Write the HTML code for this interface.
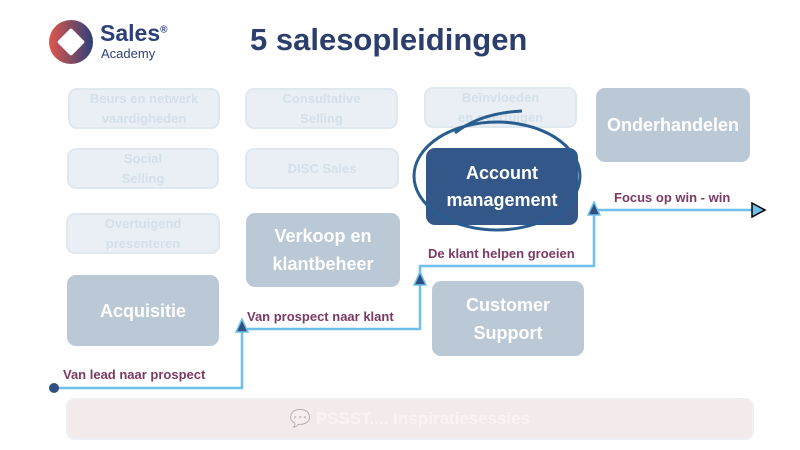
<!DOCTYPE html>
<html><head><meta charset="utf-8"><style>
body{margin:0;width:800px;height:450px;background:#fff;position:relative;overflow:hidden;font-family:"Liberation Sans","DejaVu Sans",sans-serif}
.b{position:absolute;border-radius:9px;display:flex;align-items:center;justify-content:center;text-align:center;font-weight:bold;box-sizing:border-box}
.f{background:#e9eff5;border:2px solid #dfe7ef;color:#d5dfe9;font-size:13px;line-height:20px}
.g{background:#bbc8d6;color:#fff;font-size:18px;line-height:28px}
.l{position:absolute;color:#7b3a63;font-weight:bold;font-size:13px;white-space:nowrap}
</style></head><body>
<svg width="800" height="450" style="position:absolute;left:0;top:0">
<defs><linearGradient id="lg" x1="0" x2="1"><stop offset="0" stop-color="#e0574a"/><stop offset="1" stop-color="#2d3f7a"/></linearGradient></defs>
<circle cx="71" cy="42" r="22" fill="url(#lg)"/>
<rect x="61" y="32" width="20" height="20" fill="#fff" transform="rotate(45 71 42)" rx="2"/>
</svg>
<div style="position:absolute;left:100px;top:20px;font-size:23px;font-weight:bold;color:#2d3f7a">Sales<sup style="font-size:10px">®</sup></div>
<div style="position:absolute;left:101px;top:46px;font-size:13px;color:#2d3f7a">Academy</div>
<div style="position:absolute;left:250px;top:22px;font-size:31px;font-weight:bold;color:#2c3e6b">5 salesopleidingen</div>

<div class="b f" style="left:68px;top:88px;width:152px;height:41px">Beurs en netwerk<br>vaardigheden</div>
<div class="b f" style="left:245px;top:88px;width:153px;height:41px">Consultative<br>Selling</div>
<div class="b f" style="left:424px;top:87px;width:153px;height:41px">Beïnvloeden<br>en overtuigen</div>
<div class="b f" style="left:67px;top:148px;width:152px;height:41px">Social<br>Selling</div>
<div class="b f" style="left:245px;top:148px;width:154px;height:41px">DISC Sales</div>
<div class="b f" style="left:66px;top:213px;width:154px;height:41px">Overtuigend<br>presenteren</div>

<div class="b g" style="left:596px;top:88px;width:154px;height:74px">Onderhandelen</div>
<div class="b g" style="left:246px;top:213px;width:154px;height:74px">Verkoop en<br>klantbeheer</div>
<div class="b g" style="left:67px;top:275px;width:152px;height:71px">Acquisitie</div>
<div class="b g" style="left:432px;top:281px;width:152px;height:75px">Customer<br>Support</div>
<div class="b" style="left:426px;top:148px;width:152px;height:77px;background:#34578a;color:#fff;font-size:18px;line-height:27px">Account<br>management</div>

<div class="b" style="left:66px;top:398px;width:688px;height:42px;background:#f3eaec;border:2px solid #eef0f4;color:#f9f3f4;font-size:17px"><span style="opacity:.25">💬</span>&nbsp;PSSST.... Inspiratiesessies</div>

<svg width="800" height="450" style="position:absolute;left:0;top:0">
<ellipse cx="497" cy="176" rx="83" ry="54" fill="none" stroke="#2a5d8f" stroke-width="3"/>
<path d="M455 133 Q480 113 522 111" fill="none" stroke="#2a5d8f" stroke-width="3"/>
<g fill="none" stroke="#6ec0ea" stroke-width="2.5">
<polyline points="54,388 242,388 242,329 420,329 420,266 594,266 594,210 754,210"/>
</g>
<circle cx="54" cy="388" r="5" fill="#2f4f80"/>
<g fill="#2f4f80" stroke="#6ec0ea" stroke-width="1.5">
<polygon points="242,319 236,332 248,332"/>
<polygon points="420,272 414,285 426,285"/>
<polygon points="594,202 588,215 600,215"/>
</g>
<polygon points="752,203 765,210 752,217" fill="#6ec0ea" stroke="#000" stroke-width="1.5"/>
</svg>
<div class="l" style="left:63px;top:367px">Van lead naar prospect</div>
<div class="l" style="left:247px;top:309px">Van prospect naar klant</div>
<div class="l" style="left:428px;top:246px">De klant helpen groeien</div>
<div class="l" style="left:614px;top:190px">Focus op win - win</div>
</body></html>
